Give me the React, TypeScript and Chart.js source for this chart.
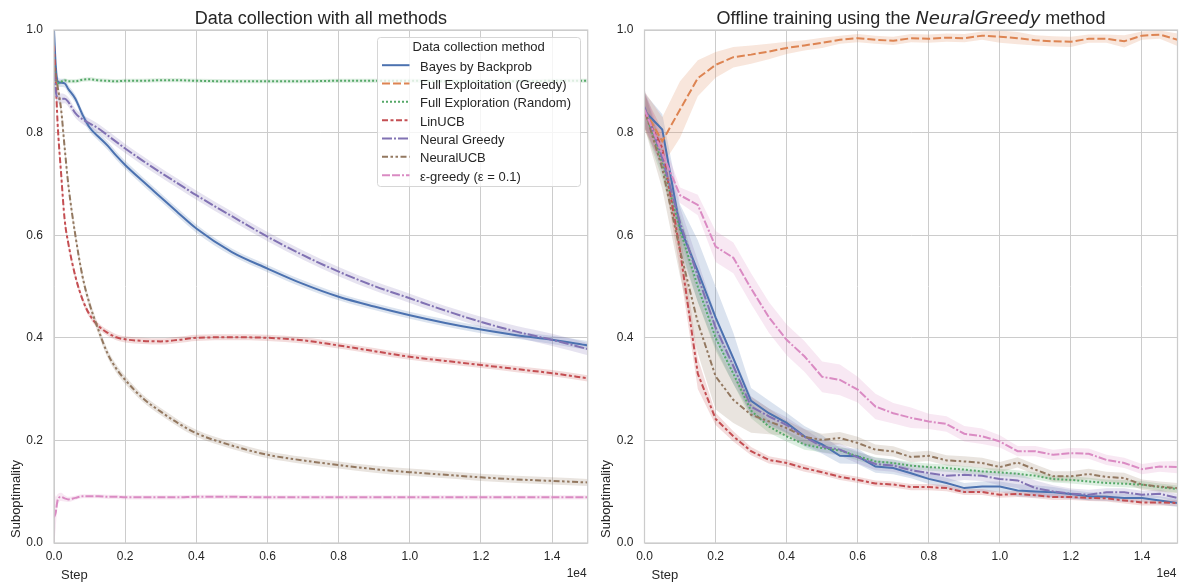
import React, { useEffect, useRef } from "react";
import { Chart, registerables } from "chart.js";
Chart.register(...registerables);

const FONT = '"Liberation Sans", Arial, Helvetica, sans-serif';
const TEXT = "#262626";
const GRID = "#cccccc";

const methods = [
  "Bayes by Backprob",
  "Full Exploitation (Greedy)",
  "Full Exploration (Random)",
  "LinUCB",
  "Neural Greedy",
  "NeuralUCB",
  "ε-greedy (ε = 0.1)",
];
const colors = ["#4c72b0", "#dd8452", "#55a868", "#c44e52", "#8172b3", "#937860", "#da8bc3"];
const dashes = [[], [8, 3], [2, 2], [6, 2.5, 3, 2.5], [10, 2, 2, 2], [6, 2.5, 2.5, 2.5, 2.5, 2.5], [8, 2, 8, 2, 2, 2]];

const xTickSteps = [0, 2000, 4000, 6000, 8000, 10000, 12000, 14000];
const yTickValues = [0, 0.2, 0.4, 0.6, 0.8, 1.0];

// ---------- Left panel: data collection ----------
const stepsL = [0, 50, 100, 200, 300, 400, 600, 800, 1000, 1250, 1500, 1750, 2000, 2500, 3000, 3500, 4000, 5000, 6000, 7000, 8000, 9000, 10000, 11000, 12000, 13000, 14000, 15000];
const bayesL = [1.0, 0.93, 0.9, 0.897, 0.896, 0.885, 0.866, 0.835, 0.81, 0.792, 0.775, 0.755, 0.737, 0.705, 0.674, 0.643, 0.613, 0.567, 0.535, 0.505, 0.48, 0.461, 0.444, 0.429, 0.416, 0.405, 0.396, 0.385];
const randomL = [0.95, 0.905, 0.896, 0.899, 0.902, 0.9, 0.9, 0.903, 0.904, 0.902, 0.901, 0.9, 0.901, 0.901, 0.902, 0.902, 0.901, 0.9, 0.9, 0.9, 0.901, 0.901, 0.901, 0.9, 0.9, 0.9, 0.901, 0.901];
const linucbL = [0.97, 0.9, 0.82, 0.72, 0.63, 0.585, 0.52, 0.475, 0.445, 0.423, 0.41, 0.401, 0.397, 0.394, 0.393, 0.396, 0.4, 0.401, 0.4, 0.395, 0.385, 0.374, 0.363, 0.355, 0.347, 0.339, 0.331, 0.321];
const neuralGreedyL = [0.92, 0.88, 0.868, 0.866, 0.866, 0.86, 0.838, 0.826, 0.818, 0.808, 0.795, 0.782, 0.769, 0.745, 0.722, 0.7, 0.678, 0.637, 0.597, 0.561, 0.529, 0.501, 0.477, 0.453, 0.431, 0.412, 0.396, 0.378];
const neuralUcbL = [0.93, 0.91, 0.89, 0.845, 0.77, 0.7, 0.6, 0.52, 0.466, 0.415, 0.37, 0.34, 0.318, 0.282, 0.256, 0.233, 0.214, 0.19, 0.172, 0.161, 0.152, 0.144, 0.138, 0.133, 0.128, 0.124, 0.121, 0.118];
const epsL = [0.05, 0.06, 0.083, 0.09, 0.087, 0.085, 0.088, 0.091, 0.091, 0.091, 0.09, 0.09, 0.089, 0.089, 0.089, 0.089, 0.09, 0.09, 0.089, 0.089, 0.089, 0.089, 0.089, 0.089, 0.089, 0.089, 0.089, 0.089];

const bayesCiL = [0.02, 0.012, 0.01, 0.008, 0.008, 0.008, 0.008, 0.008, 0.008, 0.008, 0.008, 0.008, 0.008, 0.008, 0.008, 0.008, 0.008, 0.007, 0.007, 0.007, 0.007, 0.007, 0.007, 0.007, 0.007, 0.007, 0.008, 0.009];
const randomCiL = [0.03, 0.01, 0.006, 0.004, 0.004, 0.004, 0.004, 0.004, 0.004, 0.004, 0.004, 0.004, 0.004, 0.004, 0.004, 0.004, 0.004, 0.004, 0.004, 0.004, 0.004, 0.004, 0.004, 0.004, 0.004, 0.004, 0.004, 0.004];
const linucbCiL = [0.03, 0.02, 0.015, 0.01, 0.008, 0.007, 0.006, 0.006, 0.006, 0.006, 0.006, 0.006, 0.006, 0.006, 0.006, 0.006, 0.006, 0.006, 0.006, 0.006, 0.006, 0.006, 0.006, 0.006, 0.006, 0.006, 0.006, 0.006];
const neuralGreedyCiL = [0.03, 0.015, 0.01, 0.01, 0.009, 0.009, 0.009, 0.009, 0.009, 0.009, 0.009, 0.009, 0.009, 0.009, 0.009, 0.009, 0.009, 0.009, 0.009, 0.009, 0.009, 0.009, 0.009, 0.009, 0.01, 0.011, 0.012, 0.012];
const neuralUcbCiL = [0.03, 0.02, 0.015, 0.012, 0.01, 0.01, 0.01, 0.009, 0.009, 0.009, 0.008, 0.008, 0.008, 0.007, 0.007, 0.007, 0.007, 0.007, 0.007, 0.007, 0.007, 0.007, 0.007, 0.007, 0.007, 0.007, 0.007, 0.007];
const epsCiL = [0.06, 0.03, 0.012, 0.008, 0.006, 0.005, 0.004, 0.004, 0.004, 0.004, 0.004, 0.004, 0.004, 0.004, 0.004, 0.004, 0.004, 0.004, 0.004, 0.004, 0.004, 0.004, 0.004, 0.004, 0.004, 0.004, 0.004, 0.004];

// ---------- Right panel: offline training with NeuralGreedy ----------
const stepsR = [0, 500, 1000, 1500, 2000, 2500, 3000, 3500, 4000, 4500, 5000, 5500, 6000, 6500, 7000, 7500, 8000, 8500, 9000, 9500, 10000, 10500, 11000, 11500, 12000, 12500, 13000, 13500, 14000, 14500, 15000];
const bayesR = [0.842, 0.806, 0.615, 0.53, 0.44, 0.36, 0.277, 0.253, 0.234, 0.208, 0.192, 0.17, 0.169, 0.149, 0.146, 0.136, 0.125, 0.117, 0.107, 0.11, 0.11, 0.1025, 0.1006, 0.099, 0.0955, 0.091, 0.09, 0.0877, 0.0877, 0.083, 0.078];
const greedyR = [0.845, 0.783, 0.845, 0.906, 0.932, 0.947, 0.952, 0.958, 0.965, 0.97, 0.975, 0.981, 0.984, 0.981, 0.979, 0.984, 0.983, 0.985, 0.984, 0.989, 0.987, 0.984, 0.98, 0.978, 0.977, 0.983, 0.983, 0.978, 0.989, 0.991, 0.981];
const randomR = [0.845, 0.74, 0.61, 0.5, 0.4, 0.33, 0.258, 0.227, 0.208, 0.192, 0.185, 0.1805, 0.169, 0.159, 0.156, 0.1507, 0.148, 0.146, 0.143, 0.1396, 0.1376, 0.135, 0.131, 0.1247, 0.123, 0.12, 0.117, 0.1156, 0.1137, 0.109, 0.105];
const linucbR = [0.84, 0.77, 0.57, 0.33, 0.242, 0.208, 0.179, 0.162, 0.156, 0.146, 0.138, 0.129, 0.123, 0.116, 0.114, 0.109, 0.109, 0.107, 0.0994, 0.0994, 0.094, 0.0955, 0.093, 0.0897, 0.0897, 0.0877, 0.087, 0.083, 0.079, 0.079, 0.078];
const neuralGreedyR = [0.85, 0.75, 0.625, 0.52, 0.42, 0.345, 0.266, 0.247, 0.23, 0.207, 0.188, 0.182, 0.167, 0.154, 0.151, 0.142, 0.1365, 0.131, 0.133, 0.131, 0.1247, 0.122, 0.107, 0.1006, 0.096, 0.094, 0.0987, 0.0987, 0.094, 0.096, 0.0877];
const neuralUcbR = [0.845, 0.73, 0.57, 0.43, 0.325, 0.279, 0.25, 0.237, 0.224, 0.2066, 0.201, 0.2046, 0.195, 0.182, 0.1786, 0.1676, 0.17, 0.161, 0.159, 0.156, 0.148, 0.157, 0.143, 0.13, 0.13, 0.1345, 0.1287, 0.1267, 0.1137, 0.11, 0.107];
const epsR = [0.845, 0.76, 0.678, 0.659, 0.578, 0.556, 0.496, 0.44, 0.396, 0.364, 0.324, 0.318, 0.299, 0.266, 0.253, 0.244, 0.237, 0.232, 0.213, 0.208, 0.198, 0.179, 0.179, 0.172, 0.175, 0.174, 0.162, 0.156, 0.144, 0.149, 0.148];

const bayesCiR = [0.035, 0.03, 0.045, 0.06, 0.06, 0.05, 0.025, 0.025, 0.02, 0.02, 0.018, 0.015, 0.015, 0.012, 0.012, 0.01, 0.01, 0.01, 0.01, 0.01, 0.01, 0.012, 0.012, 0.01, 0.008, 0.008, 0.008, 0.008, 0.008, 0.008, 0.008];
const greedyCiR = [0.035, 0.047, 0.055, 0.035, 0.025, 0.02, 0.018, 0.015, 0.012, 0.01, 0.01, 0.008, 0.008, 0.008, 0.008, 0.008, 0.008, 0.008, 0.008, 0.008, 0.012, 0.012, 0.01, 0.01, 0.01, 0.008, 0.008, 0.012, 0.008, 0.008, 0.012];
const randomCiR = [0.035, 0.03, 0.03, 0.03, 0.025, 0.02, 0.015, 0.012, 0.01, 0.01, 0.008, 0.008, 0.008, 0.008, 0.007, 0.007, 0.007, 0.007, 0.007, 0.007, 0.007, 0.007, 0.007, 0.007, 0.007, 0.007, 0.007, 0.007, 0.007, 0.007, 0.007];
const linucbCiR = [0.035, 0.035, 0.04, 0.03, 0.012, 0.01, 0.008, 0.007, 0.007, 0.007, 0.006, 0.006, 0.006, 0.006, 0.006, 0.006, 0.006, 0.006, 0.006, 0.006, 0.006, 0.006, 0.006, 0.006, 0.006, 0.006, 0.006, 0.006, 0.006, 0.006, 0.006];
const neuralGreedyCiR = [0.035, 0.03, 0.03, 0.03, 0.025, 0.02, 0.02, 0.015, 0.015, 0.015, 0.012, 0.012, 0.012, 0.012, 0.012, 0.012, 0.012, 0.012, 0.01, 0.01, 0.012, 0.015, 0.015, 0.012, 0.01, 0.01, 0.008, 0.008, 0.008, 0.008, 0.008];
const neuralUcbCiR = [0.035, 0.04, 0.05, 0.06, 0.065, 0.045, 0.035, 0.025, 0.015, 0.015, 0.012, 0.012, 0.012, 0.01, 0.01, 0.01, 0.01, 0.01, 0.01, 0.01, 0.01, 0.01, 0.01, 0.01, 0.01, 0.01, 0.01, 0.01, 0.01, 0.01, 0.01];
const epsCiR = [0.035, 0.03, 0.015, 0.02, 0.03, 0.03, 0.03, 0.03, 0.03, 0.03, 0.03, 0.03, 0.025, 0.025, 0.02, 0.02, 0.015, 0.015, 0.015, 0.015, 0.012, 0.01, 0.01, 0.01, 0.01, 0.01, 0.01, 0.01, 0.01, 0.01, 0.012];

type Series = { idx: number; values: number[]; ci: number[] };

const leftSeries: Series[] = [
  { idx: 0, values: bayesL, ci: bayesCiL },
  { idx: 2, values: randomL, ci: randomCiL },
  { idx: 3, values: linucbL, ci: linucbCiL },
  { idx: 4, values: neuralGreedyL, ci: neuralGreedyCiL },
  { idx: 5, values: neuralUcbL, ci: neuralUcbCiL },
  { idx: 6, values: epsL, ci: epsCiL },
];
const rightSeries: Series[] = [
  { idx: 0, values: bayesR, ci: bayesCiR },
  { idx: 1, values: greedyR, ci: greedyCiR },
  { idx: 2, values: randomR, ci: randomCiR },
  { idx: 3, values: linucbR, ci: linucbCiR },
  { idx: 4, values: neuralGreedyR, ci: neuralGreedyCiR },
  { idx: 5, values: neuralUcbR, ci: neuralUcbCiR },
  { idx: 6, values: epsR, ci: epsCiR },
];

function hexAlpha(hex: string, a: number) {
  const n = parseInt(hex.slice(1), 16);
  return `rgba(${(n >> 16) & 255},${(n >> 8) & 255},${n & 255},${a})`;
}

function makeDatasets(steps: number[], series: Series[], smooth: boolean) {
  const bands: any[] = [];
  const lines: any[] = [];
  const interp = smooth ? { cubicInterpolationMode: "monotone" } : { tension: 0 };
  series.forEach((s, k) => {
    const c = colors[s.idx];
    bands.push({
      data: steps.map((x, i) => ({ x, y: s.values[i] - s.ci[i] })),
      borderWidth: 0,
      borderColor: "rgba(0,0,0,0)",
      pointRadius: 0,
      fill: false,
      order: 200 - 2 * k,
      ...interp,
    });
    bands.push({
      data: steps.map((x, i) => ({ x, y: s.values[i] + s.ci[i] })),
      borderWidth: 0,
      borderColor: "rgba(0,0,0,0)",
      backgroundColor: hexAlpha(c, 0.2),
      pointRadius: 0,
      fill: "-1",
      order: 199 - 2 * k,
      ...interp,
    });
    lines.push({
      label: methods[s.idx],
      data: steps.map((x, i) => ({ x, y: s.values[i] })),
      borderColor: c,
      borderWidth: 2,
      borderDash: dashes[s.idx],
      pointRadius: 0,
      fill: false,
      order: 50 - k,
      ...interp,
    });
  });
  return [...bands, ...lines];
}

const framePlugin = {
  id: "frame",
  afterDatasetsDraw(chart: any) {
    const { ctx, chartArea: a } = chart;
    ctx.save();
    ctx.strokeStyle = GRID;
    ctx.lineWidth = 1.25;
    ctx.strokeRect(a.left, a.top, a.right - a.left, a.bottom - a.top);
    ctx.restore();
  },
};

function axisTextPlugin(yTitleX: number) {
  return {
    id: "axisTexts",
    afterDraw(chart: any) {
      const { ctx, chartArea: a } = chart;
      ctx.save();
      ctx.fillStyle = TEXT;
      ctx.textBaseline = "alphabetic";
      // offset text
      ctx.font = `12px ${FONT}`;
      ctx.textAlign = "right";
      ctx.fillText("1e4", a.right - 1, 577);
      // x-axis label
      ctx.font = `13px ${FONT}`;
      ctx.textAlign = "left";
      ctx.fillText("Step", a.left + 7, 579);
      // y-axis label (rotated, anchored at bottom)
      ctx.translate(yTitleX, 538);
      ctx.rotate(-Math.PI / 2);
      ctx.textAlign = "left";
      ctx.textBaseline = "middle";
      ctx.fillText("Suboptimality", 0, 0);
      ctx.restore();
    },
  };
}

function titlePlugin(parts: { text: string; font: string }[]) {
  return {
    id: "panelTitle",
    afterDraw(chart: any) {
      const { ctx, chartArea: a } = chart;
      ctx.save();
      ctx.fillStyle = TEXT;
      ctx.textBaseline = "alphabetic";
      ctx.textAlign = "left";
      const widths = parts.map((p) => {
        ctx.font = p.font;
        return ctx.measureText(p.text).width;
      });
      const total = widths.reduce((s, w) => s + w, 0);
      let x = (a.left + a.right) / 2 - total / 2;
      parts.forEach((p, i) => {
        ctx.font = p.font;
        ctx.fillText(p.text, x, 23.5);
        x += widths[i];
      });
      ctx.restore();
    },
  };
}

const legendPlugin = {
  id: "boxLegend",
  afterDraw(chart: any) {
    const { ctx } = chart;
    const x0 = 377.5, y0 = 37.5, x1 = 580.5, y1 = 186.5, r = 3;
    ctx.save();
    ctx.beginPath();
    ctx.moveTo(x0 + r, y0);
    ctx.lineTo(x1 - r, y0);
    ctx.quadraticCurveTo(x1, y0, x1, y0 + r);
    ctx.lineTo(x1, y1 - r);
    ctx.quadraticCurveTo(x1, y1, x1 - r, y1);
    ctx.lineTo(x0 + r, y1);
    ctx.quadraticCurveTo(x0, y1, x0, y1 - r);
    ctx.lineTo(x0, y0 + r);
    ctx.quadraticCurveTo(x0, y0, x0 + r, y0);
    ctx.closePath();
    ctx.fillStyle = "rgba(255,255,255,0.8)";
    ctx.fill();
    ctx.strokeStyle = "#d6d6d6";
    ctx.lineWidth = 1;
    ctx.stroke();

    ctx.fillStyle = TEXT;
    ctx.font = `13px ${FONT}`;
    ctx.textAlign = "center";
    ctx.textBaseline = "alphabetic";
    ctx.fillText("Data collection method", 478.7, 50.7);

    ctx.textAlign = "left";
    methods.forEach((m, i) => {
      const base = 70.7 + i * 18.33;
      const ly = base - 5.5;
      ctx.beginPath();
      ctx.setLineDash(dashes[i]);
      ctx.strokeStyle = colors[i];
      ctx.lineWidth = 2;
      ctx.moveTo(382, ly);
      ctx.lineTo(409.5, ly);
      ctx.stroke();
      ctx.setLineDash([]);
      ctx.fillStyle = TEXT;
      ctx.fillText(m, 420, base);
    });
    ctx.restore();
  },
};

function makeOptions(yAxisWidth: number, padRight: number) {
  return {
    animation: false,
    responsive: false,
    maintainAspectRatio: false,
    devicePixelRatio: 1,
    layout: { padding: { top: 30, right: padRight, left: 0, bottom: 0 } },
    plugins: { legend: { display: false }, tooltip: { enabled: false }, title: { display: false } },
    scales: {
      x: {
        type: "linear",
        min: 0,
        max: 15000,
        afterFit: (s: any) => {
          s.height = 41;
        },
        afterBuildTicks: (s: any) => {
          s.ticks = xTickSteps.map((v) => ({ value: v }));
        },
        ticks: {
          callback: (v: number) => (v / 10000).toFixed(1),
          font: { family: FONT, size: 12 },
          color: TEXT,
          padding: 6,
          maxRotation: 0,
          autoSkip: false,
        },
        grid: { color: GRID, lineWidth: 1, drawTicks: false },
        border: { display: false },
        title: { display: false },
      },
      y: {
        type: "linear",
        min: 0,
        max: 1,
        afterFit: (s: any) => {
          s.width = yAxisWidth;
        },
        afterBuildTicks: (s: any) => {
          s.ticks = yTickValues.map((v) => ({ value: v }));
        },
        ticks: {
          callback: (v: number) => v.toFixed(1),
          font: { family: FONT, size: 12 },
          color: TEXT,
          padding: 11,
        },
        grid: { color: GRID, lineWidth: 1, drawTicks: false },
        border: { display: false },
        title: { display: false },
      },
    },
  };
}

export default function App() {
  const leftRef = useRef<HTMLCanvasElement>(null);
  const rightRef = useRef<HTMLCanvasElement>(null);

  useEffect(() => {
    const left = new Chart(leftRef.current as HTMLCanvasElement, {
      type: "line",
      data: { datasets: makeDatasets(stepsL, leftSeries, true) },
      options: makeOptions(54, 4.3) as any,
      plugins: [
        framePlugin,
        axisTextPlugin(16.5),
        titlePlugin([{ text: "Data collection with all methods", font: `18px ${FONT}` }]),
        legendPlugin,
      ],
    });
    const right = new Chart(rightRef.current as HTMLCanvasElement, {
      type: "line",
      data: { datasets: makeDatasets(stepsR, rightSeries, false) },
      options: makeOptions(52.5, 6.5) as any,
      plugins: [
        framePlugin,
        axisTextPlugin(14.7),
        titlePlugin([
          { text: "Offline training using the ", font: `18px ${FONT}` },
          { text: "NeuralGreedy", font: `italic 18px "DejaVu Sans", sans-serif` },
          { text: " method", font: `18px ${FONT}` },
        ]),
      ],
    });
    return () => {
      left.destroy();
      right.destroy();
    };
  }, []);

  return (
    <div style={{ position: "fixed", left: 0, top: 0, width: 1184, height: 584, background: "#fff" }}>
      <canvas ref={leftRef} width={592} height={584} style={{ position: "absolute", left: 0, top: 0 }} />
      <canvas ref={rightRef} width={592} height={584} style={{ position: "absolute", left: 592, top: 0 }} />
    </div>
  );
}
